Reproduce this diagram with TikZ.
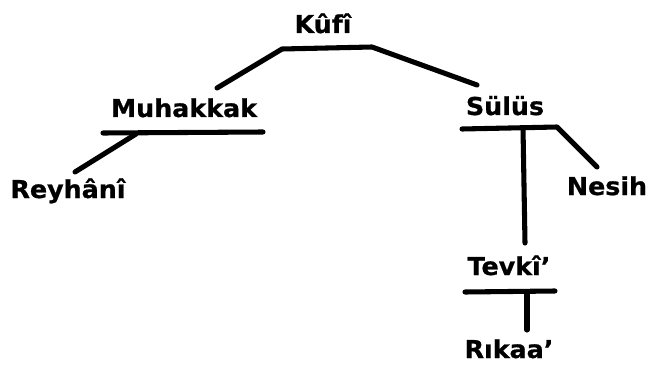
\documentclass[tikz,border=0pt]{standalone}
\usepackage{fontspec}
\usepackage{tikz}
\usetikzlibrary{positioning}
\newfontfamily\hatfont{DejaVu Sans}[FakeStretch=1.03, FakeBold=0.8]

\begin{document}
\begin{tikzpicture}[
    x=0.025cm, y=-0.025cm,
    hat/.style={font=\hatfont\bfseries\fontsize{17.5}{20}\selectfont,
                inner sep=0pt, anchor=base},
    branch/.style={line width=3.6pt, line cap=round, line join=round},
]
\useasboundingbox (0,0) rectangle (648,367);

%% ── Script names ─────────────────────────────────────────────────────────
\node[hat] (kufi)     at (323,  33) {Kûfî};
\node[hat] (muhakkak) at (184, 117) {Muhakkak};
\node[hat] (reyhani)  at ( 68, 198) {Reyhânî};
\node[hat] (sulus)    at (505, 115) {Sülüs};
\node[hat] (nesih)    at (607, 195) {Nesih};
\node[hat] (tevki)    at (509, 275) {Tevkî’};
\node[hat] (rikaa)    at (509, 358) {Rıkaa’};

%% ── Bar ends ─────────────────────────────────────────────────────────────
\coordinate (kufiL) at (282, 49);
\coordinate (kufiR) at (372, 47);
\coordinate (muhTop) at (217, 88);
\coordinate (sulTop) at (477, 85);

\coordinate (muhL) at (103, 133);
\coordinate (muhR) at (263, 132);
\coordinate (muhJ) at (136, 134);
\coordinate (reyTop) at (75, 172);

\coordinate (sulL) at (462, 129);
\coordinate (sulR) at (557, 127);
\coordinate (sulJ) at (523, 128);
\coordinate (nesTop) at (597, 167);
\coordinate (tevTop) at (525, 243);

\coordinate (tevL) at (465, 292);
\coordinate (tevR) at (555, 291);
\coordinate (tevJ) at (527, 292);
\coordinate (rikTop) at (527, 330);

%% ── Kûfî ─────────────────────────────────────────────────────────────────
\draw[branch] (muhTop) -- (kufiL) -- (kufiR) -- (sulTop);

%% ── Muhakkak ─────────────────────────────────────────────────────────────
\draw[branch] (muhL) -- (muhR);
\draw[branch] (muhJ) -- (reyTop);

%% ── Sülüs ────────────────────────────────────────────────────────────────
\draw[branch] (sulL) -- (sulR) -- (nesTop);
\draw[branch] (sulJ) -- (tevTop);

%% ── Tevkî' ───────────────────────────────────────────────────────────────
\draw[branch] (tevL) -- (tevR);
\draw[branch] (tevJ) -- (rikTop);

\end{tikzpicture}
\end{document}
